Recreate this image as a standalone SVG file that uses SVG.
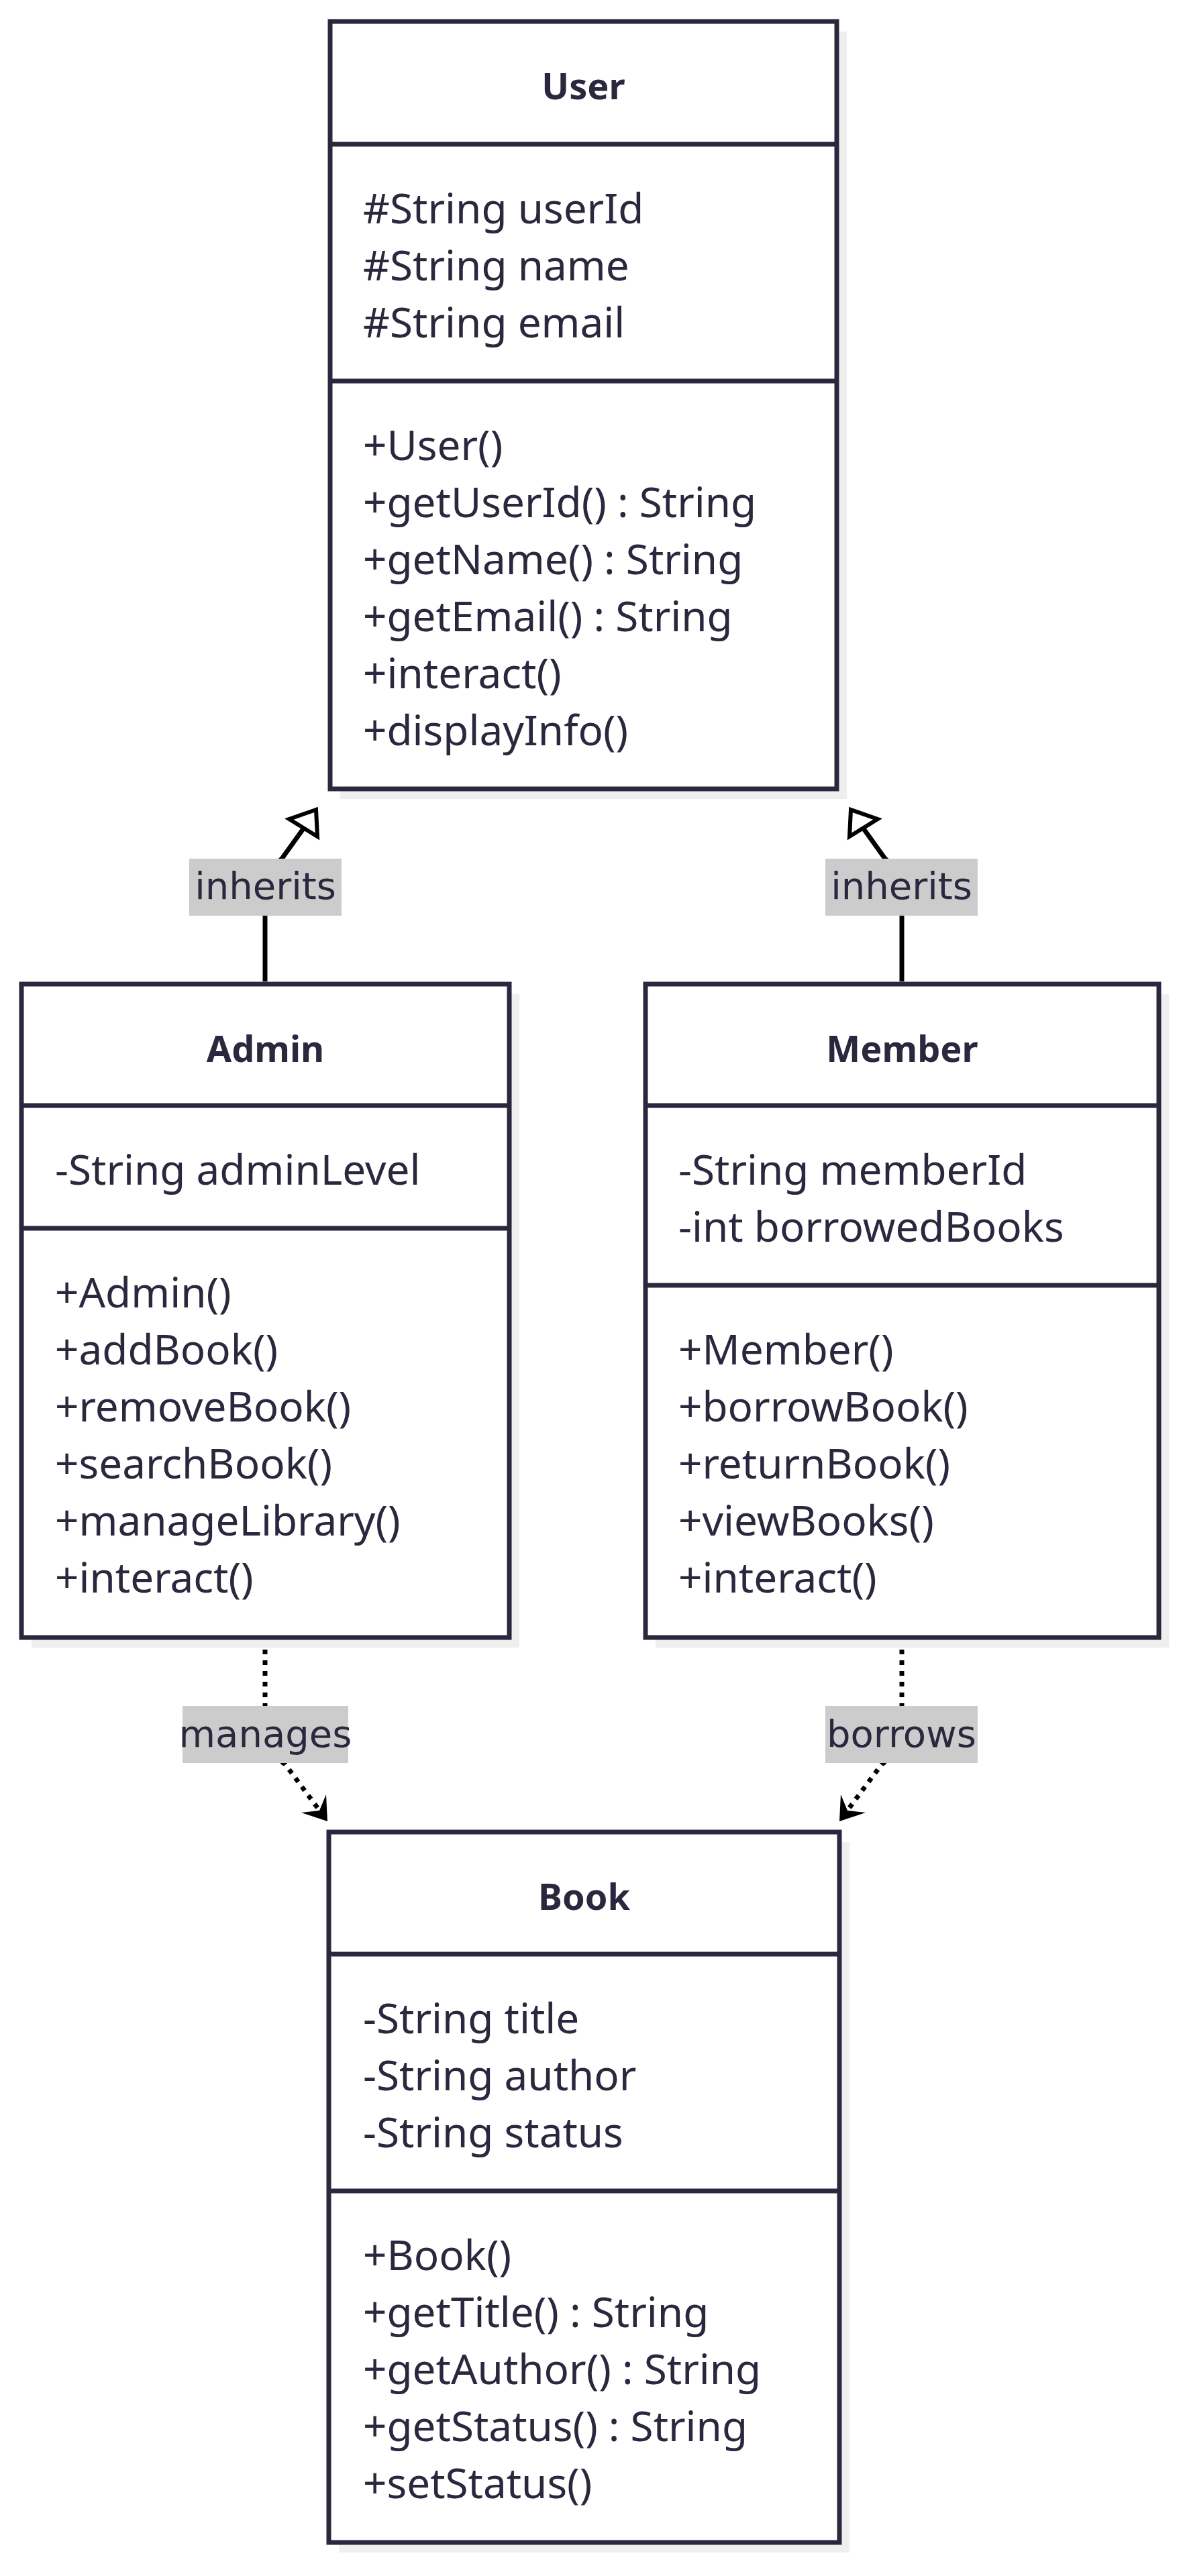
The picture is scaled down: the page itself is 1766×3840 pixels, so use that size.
<svg xmlns="http://www.w3.org/2000/svg" width="1766" height="3840" viewBox="0 0 1766 3840">
<style>
.shadow{fill:#efefef;stroke:none}
.box{fill:#ffffff;stroke:#29283f;stroke-width:7}
.sep{stroke:#29283f;stroke-width:7}
.title{font-family:"Noto Sans","DejaVu Sans",sans-serif;font-weight:bold;font-size:54px;fill:#29283f;text-anchor:middle}
.mem{font-family:"Noto Sans","DejaVu Sans",sans-serif;font-size:62px;fill:#29283f}
.edge{fill:none;stroke:#000000;stroke-width:7}
.dot{fill:none;stroke:#000000;stroke-width:7;stroke-dasharray:7 9}
.lblbg{fill:#cccccc;stroke:none}
.lbl{font-family:"DejaVu Sans",sans-serif;font-size:56px;fill:#29283f;text-anchor:middle}
.inh{fill:#ffffff;stroke:#000000;stroke-width:6;stroke-linejoin:miter}
.dep{fill:#000000;stroke:none}
</style>
<rect width="1766" height="3840" fill="#ffffff"/>

<g id="connectors">
  <path class="edge" d="M395,1463 L395,1322 Q395,1300 420,1280 L453,1234"/>
  <polygon class="inh" points="471,1207 431,1221 473,1247"/>
  <path class="edge" d="M1344,1463 L1344,1322 Q1344,1300 1319,1280 L1286,1234"/>
  <polygon class="inh" points="1268,1207 1308,1221 1266,1247"/>
  <path class="dot" d="M395,2443 L395,2585 Q395,2610 425,2630 L480,2704"/>
  <polygon class="dep" points="488,2715 449,2702 476,2699 486,2675"/>
  <path class="dot" d="M1344,2443 L1344,2585 Q1344,2610 1314,2630 L1259,2704"/>
  <polygon class="dep" points="1251,2715 1290,2702 1263,2699 1253,2675"/>
  <g id="label-inherits-admin">
    <rect class="lblbg" x="282" y="1280" width="227" height="85"/>
    <text class="lbl" x="395.5" y="1340">inherits</text>
  </g>
  <g id="label-inherits-member">
    <rect class="lblbg" x="1230" y="1280" width="227" height="85"/>
    <text class="lbl" x="1343.5" y="1340">inherits</text>
  </g>
  <g id="label-manages">
    <rect class="lblbg" x="272" y="2543" width="247" height="85"/>
    <text class="lbl" x="395.5" y="2604">manages</text>
  </g>
  <g id="label-borrows">
    <rect class="lblbg" x="1230" y="2543" width="227" height="85"/>
    <text class="lbl" x="1343.5" y="2604">borrows</text>
  </g>
</g>

<g id="User">
  <rect class="shadow" x="507" y="47" width="755" height="1144"/>
  <rect class="box" x="492" y="32" width="755" height="1144"/>
  <line class="sep" x1="492" y1="215" x2="1247" y2="215"/>
  <line class="sep" x1="492" y1="568" x2="1247" y2="568"/>
  <text class="title" x="869.5" y="148">User</text>
  <text class="mem" x="541" y="333">#String userId</text>
  <text class="mem" x="541" y="418">#String name</text>
  <text class="mem" x="541" y="503">#String email</text>
  <text class="mem" x="541" y="686">+User()</text>
  <text class="mem" x="541" y="771">+getUserId() : String</text>
  <text class="mem" x="541" y="856">+getName() : String</text>
  <text class="mem" x="541" y="941">+getEmail() : String</text>
  <text class="mem" x="541" y="1026">+interact()</text>
  <text class="mem" x="541" y="1111">+displayInfo()</text>
</g>

<g id="Admin">
  <rect class="shadow" x="47" y="1482" width="727" height="974"/>
  <rect class="box" x="32" y="1467" width="727" height="974"/>
  <line class="sep" x1="32" y1="1648" x2="759" y2="1648"/>
  <line class="sep" x1="32" y1="1831" x2="759" y2="1831"/>
  <text class="title" x="395.5" y="1583">Admin</text>
  <text class="mem" x="82" y="1766">-String adminLevel</text>
  <text class="mem" x="82" y="1949">+Admin()</text>
  <text class="mem" x="82" y="2034">+addBook()</text>
  <text class="mem" x="82" y="2119">+removeBook()</text>
  <text class="mem" x="82" y="2204">+searchBook()</text>
  <text class="mem" x="82" y="2289">+manageLibrary()</text>
  <text class="mem" x="82" y="2374">+interact()</text>
</g>

<g id="Member">
  <rect class="shadow" x="977" y="1482" width="765" height="974"/>
  <rect class="box" x="962" y="1467" width="765" height="974"/>
  <line class="sep" x1="962" y1="1648" x2="1727" y2="1648"/>
  <line class="sep" x1="962" y1="1916" x2="1727" y2="1916"/>
  <text class="title" x="1344.5" y="1583">Member</text>
  <text class="mem" x="1011" y="1766">-String memberId</text>
  <text class="mem" x="1011" y="1851">-int borrowedBooks</text>
  <text class="mem" x="1011" y="2034">+Member()</text>
  <text class="mem" x="1011" y="2119">+borrowBook()</text>
  <text class="mem" x="1011" y="2204">+returnBook()</text>
  <text class="mem" x="1011" y="2289">+viewBooks()</text>
  <text class="mem" x="1011" y="2374">+interact()</text>
</g>

<g id="Book">
  <rect class="shadow" x="505" y="2746" width="761" height="1059"/>
  <rect class="box" x="490" y="2731" width="761" height="1059"/>
  <line class="sep" x1="490" y1="2913" x2="1251" y2="2913"/>
  <line class="sep" x1="490" y1="3266" x2="1251" y2="3266"/>
  <text class="title" x="870.5" y="2847">Book</text>
  <text class="mem" x="541" y="3031">-String title</text>
  <text class="mem" x="541" y="3116">-String author</text>
  <text class="mem" x="541" y="3201">-String status</text>
  <text class="mem" x="541" y="3384">+Book()</text>
  <text class="mem" x="541" y="3469">+getTitle() : String</text>
  <text class="mem" x="541" y="3554">+getAuthor() : String</text>
  <text class="mem" x="541" y="3639">+getStatus() : String</text>
  <text class="mem" x="541" y="3724">+setStatus()</text>
</g>
</svg>
